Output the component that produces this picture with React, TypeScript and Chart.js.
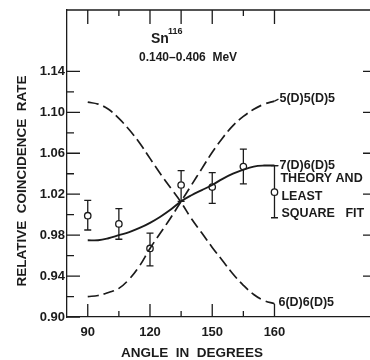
import React, { useEffect, useRef } from "react";
import { Chart, registerables } from "chart.js";

Chart.register(...registerables);

// Theory curves, sampled every 5 degrees
const angles = [90, 95, 100, 105, 110, 115, 120, 125, 130, 135, 140, 145, 150, 155, 160, 165, 170, 175, 180];
const curve555 = [0.920, 0.921, 0.924, 0.928, 0.937, 0.950, 0.967, 0.982, 0.997, 1.013, 1.029, 1.045, 1.061, 1.075, 1.087, 1.096, 1.103, 1.108, 1.111];
const curve665 = [1.110, 1.108, 1.103, 1.094, 1.083, 1.070, 1.055, 1.040, 1.026, 1.012, 0.996, 0.982, 0.968, 0.955, 0.942, 0.931, 0.922, 0.916, 0.913];
const curve765 = [0.975, 0.975, 0.977, 0.980, 0.983, 0.987, 0.992, 0.998, 1.005, 1.013, 1.019, 1.024, 1.029, 1.035, 1.040, 1.044, 1.047, 1.048, 1.048];

// Measured points with error bars
const dataAngles = [90, 105, 120, 135, 150, 165, 180];
const dataRate = [0.999, 0.991, 0.967, 1.029, 1.027, 1.047, 1.022];
const dataHigh = [1.014, 1.006, 0.982, 1.043, 1.041, 1.064, 1.048];
const dataLow = [0.985, 0.976, 0.950, 1.013, 1.011, 1.030, 0.997];

// Axis ticks
const xTickValues = [90, 120, 150, 180];
const xTickLabels = ["90", "120", "150", "160"];
const xMinorTicks = [105, 135, 165];
const yTickValues = [0.9, 0.94, 0.98, 1.02, 1.06, 1.1, 1.14];
const yTickLabels = ["0.90", "0.94", "0.98", "1.02", "1.06", "1.10", "1.14"];
const yMinorTicks = [0.92, 0.96, 1.0, 1.04, 1.08, 1.12];

const INK = "#1b1b1b";
const FONT = "'Liberation Sans', Arial, sans-serif";

const decorPlugin = {
  id: "decor",
  afterDatasetsDraw(chart: any) {
    const { ctx, scales } = chart;
    const xs = scales.x;
    const ys = scales.y;
    ctx.save();
    ctx.strokeStyle = INK;
    ctx.lineWidth = 1.3;
    dataAngles.forEach((a, i) => {
      const px = xs.getPixelForValue(a);
      const pHi = ys.getPixelForValue(dataHigh[i]);
      const pLo = ys.getPixelForValue(dataLow[i]);
      const pMid = ys.getPixelForValue(dataRate[i]);
      ctx.beginPath();
      ctx.moveTo(px, pHi);
      ctx.lineTo(px, pMid - 3.2);
      ctx.moveTo(px, pMid + 3.2);
      ctx.lineTo(px, pLo);
      ctx.moveTo(px - 3.5, pHi);
      ctx.lineTo(px + 3.5, pHi);
      ctx.moveTo(px - 3.5, pLo);
      ctx.lineTo(px + 3.5, pLo);
      ctx.stroke();
    });
    ctx.restore();
  },
  afterDraw(chart: any) {
    const { ctx, scales, chartArea } = chart;
    const xs = scales.x;
    const ys = scales.y;
    const { left, right, top, bottom } = chartArea;
    ctx.save();
    ctx.strokeStyle = INK;
    ctx.lineWidth = 1.3;
    ctx.beginPath();
    ctx.moveTo(left, top);
    ctx.lineTo(right, top);
    ctx.stroke();
    ctx.lineWidth = 1.3;
    ctx.beginPath();
    xTickValues.forEach((v) => {
      const px = xs.getPixelForValue(v);
      ctx.moveTo(px, bottom);
      ctx.lineTo(px, bottom - 13);
      ctx.moveTo(px, top);
      ctx.lineTo(px, top + 14);
    });
    xMinorTicks.forEach((v) => {
      const px = xs.getPixelForValue(v);
      ctx.moveTo(px, bottom);
      ctx.lineTo(px, bottom - 6);
      ctx.moveTo(px, top);
      ctx.lineTo(px, top + (v === 135 ? 14 : 6));
    });
    yTickValues.forEach((v) => {
      const py = ys.getPixelForValue(v);
      ctx.moveTo(left, py);
      ctx.lineTo(left + 13, py);
      if (v > 0.9) {
        ctx.moveTo(right, py);
        ctx.lineTo(right - 9, py);
      }
    });
    yMinorTicks.forEach((v) => {
      const py = ys.getPixelForValue(v);
      ctx.moveTo(left, py);
      ctx.lineTo(left + 7, py);
    });
    const xEnd = xs.getPixelForValue(180);
    const y555 = ys.getPixelForValue(curve555[curve555.length - 1]);
    ctx.moveTo(xEnd, y555);
    ctx.lineTo(xEnd + 4, y555 - 2);
    const y765 = ys.getPixelForValue(dataHigh[dataHigh.length - 1]);
    ctx.moveTo(xEnd, y765);
    ctx.lineTo(xEnd + 4, y765);
    ctx.stroke();

    ctx.fillStyle = INK;
    ctx.textBaseline = "middle";
    ctx.textAlign = "left";
    ctx.font = `bold 14px ${FONT}`;
    ctx.fillText("Sn", 151, 39);
    ctx.font = `bold 9px ${FONT}`;
    ctx.fillText("116", 168, 32);
    ctx.font = `bold 12px ${FONT}`;
    ctx.fillText("0.140\u20130.406  MeV", 139, 58);

    ctx.font = `bold 12.5px ${FONT}`;
    ctx.fillText("5(D)5(D)5", xEnd + 5, y555 - 3);
    ctx.fillText("7(D)6(D)5", xEnd + 5, y765);
    const y665 = ys.getPixelForValue(curve665[curve665.length - 1]);
    ctx.fillText("6(D)6(D)5", xEnd + 4, y665 - 1);
    ctx.fillText("THEORY AND", xEnd + 6, 179);
    ctx.fillText("LEAST", xEnd + 7, 197);
    ctx.fillText("SQUARE   FIT", xEnd + 7, 214);

    ctx.font = `bold 13.5px ${FONT}`;
    ctx.textAlign = "center";
    ctx.fillText("ANGLE  IN  DEGREES", 192, 353);
    ctx.translate(22, 181);
    ctx.rotate(-Math.PI / 2);
    ctx.fillText("RELATIVE  COINCIDENCE  RATE", 0, 0);
    ctx.restore();
  },
};

export default function App() {
  const ref = useRef<HTMLCanvasElement | null>(null);

  useEffect(() => {
    if (!ref.current) return;
    const line = (vals: number[], dash: number[], width: number) => ({
      type: "line" as const,
      data: angles.map((a, i) => ({ x: a, y: vals[i] })),
      borderColor: INK,
      borderWidth: width,
      borderDash: dash,
      pointRadius: 0,
      tension: 0.4,
      fill: false,
    });
    const chart = new Chart(ref.current, {
      type: "line",
      data: {
        datasets: [
          { label: "5(D)5(D)5", ...line(curve555, [11, 5], 1.7) },
          { label: "6(D)6(D)5", ...line(curve665, [11, 5], 1.7) },
          { label: "7(D)6(D)5", ...line(curve765, [], 1.9) },
          {
            type: "scatter" as const,
            label: "data",
            data: dataAngles.map((a, i) => ({ x: a, y: dataRate[i] })),
            pointRadius: 3.2,
            pointBackgroundColor: "#ffffff",
            pointBorderColor: INK,
            pointBorderWidth: 1.3,
            showLine: false,
          },
        ] as any,
      },
      options: {
        animation: false,
        responsive: false,
        devicePixelRatio: 1,
        layout: { padding: { left: 0, right: 8, top: 10, bottom: 0 } },
        plugins: { legend: { display: false }, tooltip: { enabled: false } },
        scales: {
          x: {
            type: "linear",
            min: 80,
            max: 227,
            afterFit: (s: any) => {
              s.height = 43;
            },
            afterBuildTicks: (s: any) => {
              s.ticks = xTickValues.map((v) => ({ value: v }));
            },
            ticks: {
              autoSkip: false,
              maxRotation: 0,
              padding: 8,
              color: INK,
              font: { family: FONT, size: 13, weight: "bold" },
              callback: (v: any) => {
                const i = xTickValues.indexOf(Number(v));
                return i >= 0 ? xTickLabels[i] : "";
              },
            },
            grid: { display: true, drawOnChartArea: false, drawTicks: false },
            border: { display: true, color: INK, width: 1.3 },
          },
          y: {
            type: "linear",
            min: 0.9,
            max: 1.2,
            afterFit: (s: any) => {
              s.width = 67;
            },
            afterBuildTicks: (s: any) => {
              s.ticks = yTickValues.map((v) => ({ value: v }));
            },
            ticks: {
              autoSkip: false,
              padding: 2,
              color: INK,
              font: { family: FONT, size: 13, weight: "bold" },
              callback: (v: any) => {
                const i = yTickValues.findIndex((t) => Math.abs(t - Number(v)) < 1e-6);
                return i >= 0 ? yTickLabels[i] : "";
              },
            },
            grid: { display: true, drawOnChartArea: false, drawTicks: false },
            border: { display: true, color: INK, width: 1.3 },
          },
        },
      },
      plugins: [decorPlugin],
    });
    return () => chart.destroy();
  }, []);

  return (
    <div style={{ position: "fixed", left: 0, top: 0, width: 380, height: 360, background: "#fff" }}>
      <canvas ref={ref} width={380} height={360} style={{ width: 380, height: 360, display: "block" }} />
    </div>
  );
}
